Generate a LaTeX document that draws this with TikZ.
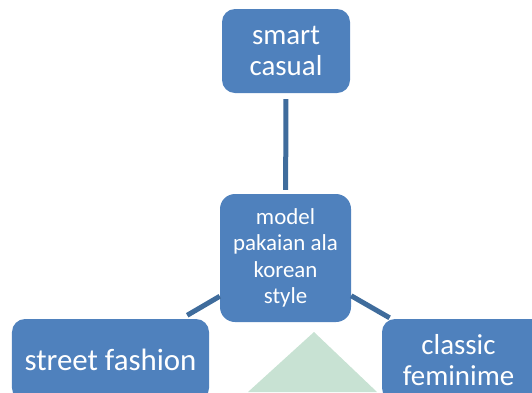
\documentclass[tikz,border=0pt]{standalone}
\usepackage{fontspec}
\setmainfont{Carlito}
\definecolor{boxblue}{HTML}{4F81BD}
\definecolor{linkblue}{HTML}{3F6C9C}
\definecolor{wmgreen}{HTML}{C8E2D3}
\begin{document}
\begin{tikzpicture}[x=1bp,y=-1bp,
  box/.style={rectangle, rounded corners=13bp, fill=boxblue, text=white,
    align=center, inner sep=0pt},
  conn/.style={draw=linkblue, line width=5bp}]
\useasboundingbox (0,0) rectangle (532,392);
\clip (0,0) rectangle (532,392);
% watermark
\fill[wmgreen] (314,332) -- (377,392) -- (248,392) -- cycle;
% nodes
\node[box, minimum width=128bp, minimum height=84bp, font=\fontsize{29}{32}\selectfont] (top) at (286,51) {smart\\casual};
\node[box, minimum width=131bp, minimum height=128bp, rounded corners=15bp, font=\fontsize{23}{26.5}\selectfont] (mid) at (285.5,258) {model\\pakaian ala\\korean\\style};
\node[box, minimum width=197bp, minimum height=82bp, font=\fontsize{31}{34}\selectfont] (left) at (110.5,360) {street fashion};
\node[box, minimum width=162bp, minimum height=82bp, font=\fontsize{29}{32}\selectfont] (right) at (463,360) {\hspace*{-9bp}classic\\\hspace*{-9bp}feminime};
% connectors
\draw[conn, shorten <=6bp, shorten >=4bp] (top) -- (mid);
\draw[conn, shorten <=0bp, shorten >=7bp] (mid) -- (left);
\draw[conn, shorten <=0bp, shorten >=2bp] (mid) -- (right);
\end{tikzpicture}
\end{document}
